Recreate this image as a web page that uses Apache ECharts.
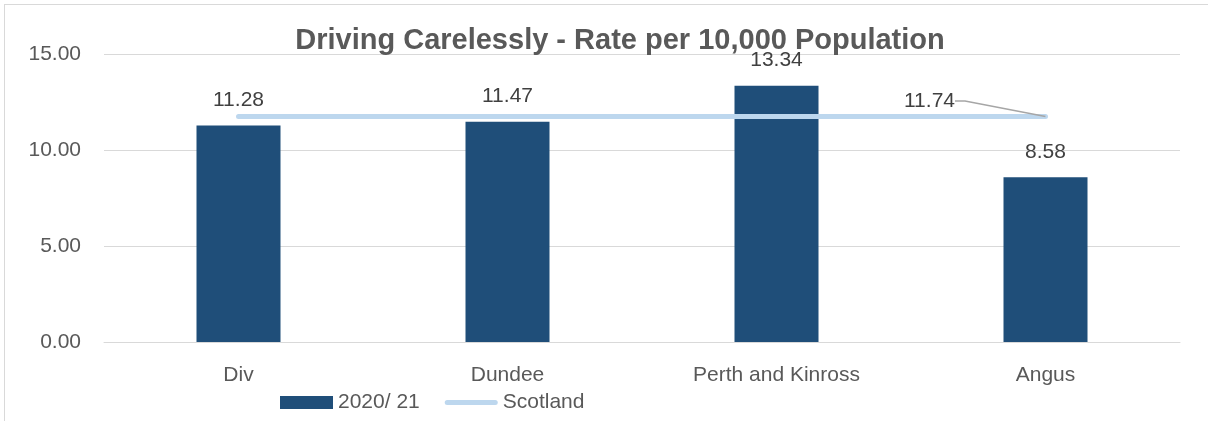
<!DOCTYPE html>
<html><head><meta charset="utf-8">
<script src="https://cdn.jsdelivr.net/npm/echarts@6/dist/echarts.min.js"></script>
<style>html,body{margin:0;padding:0;background:#fff}#c{width:1208px;height:421px}
#frame{position:absolute;left:4px;top:4px;width:1300px;height:500px;border:1px solid #d9d9d9;pointer-events:none}</style>
</head><body><div id="c"></div><div id="frame"></div>
<script>
var categories = ['Div', 'Dundee', 'Perth and Kinross', 'Angus'];
var rates2020 = [11.28, 11.47, 13.34, 8.58];
var scotland = [11.74, 11.74, 11.74, 11.74];
var yTicks = [0, 5, 10, 15];

var chart = echarts.init(document.getElementById('c'));
var font = 'Liberation Sans';
chart.setOption({
  animation: false,
  title: {
    text: 'Driving Carelessly - Rate per 10,000 Population',
    left: 615, top: 21, textAlign: 'center',
    textStyle: {fontFamily: font, fontSize: 29, fontWeight: 'bold', color: '#595959'}
  },
  grid: {left: 104, right: 28, top: 54, bottom: 79},
  legend: {
    left: 275, top: 387, itemGap: 25, itemWidth: 53, itemHeight: 13,
    textStyle: {fontFamily: font, fontSize: 21, color: '#595959'},
    data: [
      {name: '2020/ 21', icon: 'rect'},
      {name: 'Scotland', icon: 'path://M2.5,0 L50.5,0 A2.5,2.5 0 0 1 50.5,5 L2.5,5 A2.5,2.5 0 0 1 2.5,0 Z', itemStyle: {color: '#BDD7EE'}}
    ]
  },
  xAxis: {
    type: 'category', data: categories,
    axisLine: {show: true, lineStyle: {color: '#d9d9d9', width: 1}},
    axisTick: {show: false},
    axisLabel: {fontFamily: font, fontSize: 21, color: '#595959', margin: 23}
  },
  yAxis: {
    type: 'value', min: yTicks[0], max: yTicks[yTicks.length-1], interval: 5,
    axisLine: {show: false}, axisTick: {show: false},
    splitLine: {lineStyle: {color: '#d9d9d9', width: 1}},
    axisLabel: {fontFamily: font, fontSize: 21, color: '#595959', margin: 23,
      formatter: function(v){return v.toFixed(2);}}
  },
  series: [
    {
      name: '2020/ 21', type: 'bar', data: rates2020, barWidth: 84,
      itemStyle: {color: '#1F4E79'},
      label: {show: true, position: 'top', distance: 15, fontFamily: font, fontSize: 21, color: '#404040',
        formatter: function(p){return p.value.toFixed(2);}}
    },
    {
      name: 'Scotland', type: 'line', data: scotland.map(function(v, i){
        return i === scotland.length - 1 ? {value: v, label: {show: true}} : v;
      }),
      symbol: 'circle', symbolSize: 0.1, showSymbol: true,
      lineStyle: {color: '#BDD7EE', width: 5, cap: 'round'},
      itemStyle: {color: '#BDD7EE'},
      label: {show: false, position: 'top', distance: 4, fontFamily: font, fontSize: 21, color: '#404040',
        formatter: function(p){return p.value.toFixed(2);}},
      labelLayout: {dx: -116, dy: -1},
      labelLine: {show: true, length2: 10, lineStyle: {color: '#a6a6a6', width: 1.5}},
      z: 3
    }
  ]
});
</script></body></html>
